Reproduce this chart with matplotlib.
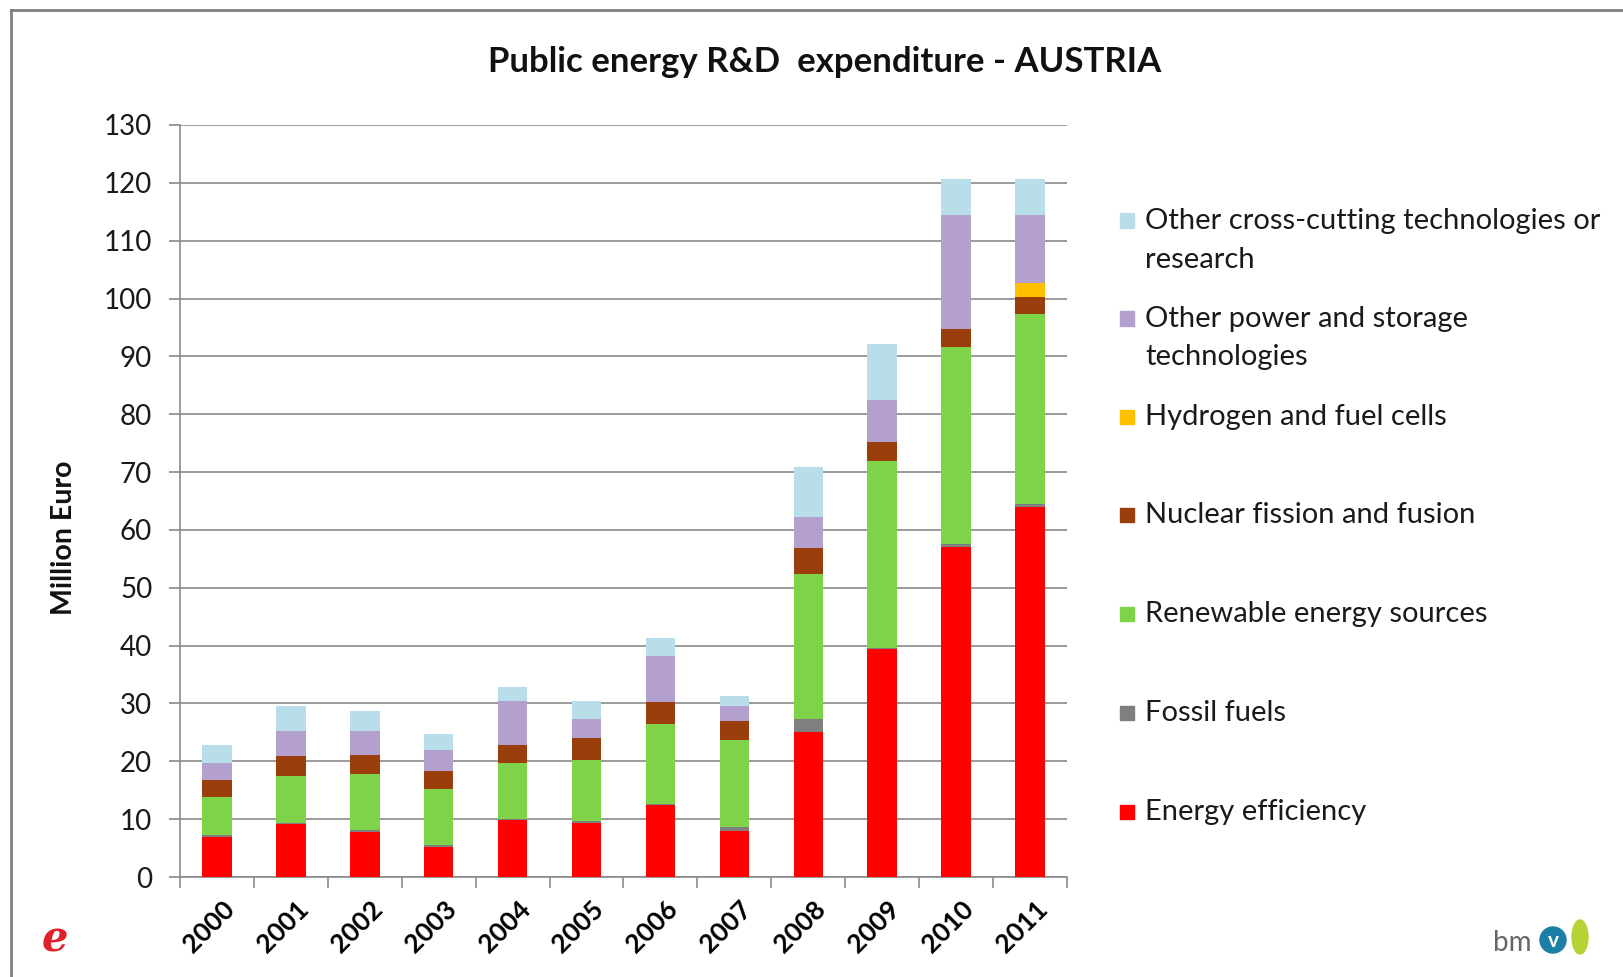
import matplotlib
matplotlib.use("Agg")
import matplotlib.pyplot as plt
import numpy as np
from matplotlib.patches import Rectangle, Ellipse

years = ["2000", "2001", "2002", "2003", "2004", "2005", "2006", "2007", "2008", "2009", "2010", "2011"]
efficiency = [7.0, 9.1, 7.8, 5.1, 9.8, 9.4, 12.4, 8.0, 25.0, 39.4, 57.1, 64.0]
fossil = [0.3, 0.3, 0.3, 0.4, 0.3, 0.3, 0.3, 0.6, 2.4, 0.2, 0.5, 0.5]
renewable = [6.5, 8.1, 9.7, 9.7, 9.6, 10.6, 13.7, 15.1, 24.9, 32.4, 34.1, 32.8]
nuclear = [2.9, 3.5, 3.3, 3.1, 3.2, 3.7, 3.8, 3.2, 4.6, 3.2, 3.1, 2.9]
hydrogen = [0.0, 0.0, 0.0, 0.0, 0.0, 0.0, 0.0, 0.0, 0.0, 0.0, 0.0, 2.4]
other_power = [3.0, 4.3, 4.2, 3.7, 7.6, 3.3, 8.0, 2.7, 5.4, 7.3, 19.6, 11.8]
cross_cutting = [3.2, 4.3, 3.4, 2.7, 2.4, 3.2, 3.2, 1.7, 8.5, 9.6, 6.3, 6.3]

series = [efficiency, fossil, renewable, nuclear, hydrogen, other_power, cross_cutting]
labels = ["Energy efficiency", "Fossil fuels", "Renewable energy sources",
          "Nuclear fission and fusion", "Hydrogen and fuel cells",
          "Other power and storage\ntechnologies",
          "Other cross-cutting technologies or\nresearch"]
colors = ["#FF0000", "#7F7F7F", "#7ED348", "#9A3F0C", "#FFC000", "#B3A0CF", "#B8DEEA"]

title = "Public energy R&D  expenditure - AUSTRIA"
ylabel = "Million Euro"
yticks = list(range(0, 131, 10))

plt.rcParams['font.family'] = ['Lato', 'DejaVu Sans']

fig = plt.figure(figsize=(16.24, 9.77), dpi=100)
ax = fig.add_axes([180/1624, 1-877/977, (1067-180)/1624, (877-125)/977])

x = np.arange(len(years))
bottom = np.zeros(len(years))
for vals, lab, col in zip(series, labels, colors):
    ax.bar(x, vals, width=0.4, bottom=bottom, color=col, label=lab, zorder=3, linewidth=0)
    bottom += np.array(vals)

ax.set_xlim(-0.5, len(years) - 0.5)
ax.set_ylim(0, 130)
ax.set_yticks(yticks)
ax.set_yticklabels([str(t) for t in yticks], fontsize=20, color="#1a1a1a")
ax.yaxis.grid(True, color="#8a8a8a", linewidth=1.2, zorder=0)
ax.set_axisbelow(True)
ax.tick_params(axis='y', length=8, width=1.2, color="#8a8a8a", pad=12)

ax.set_xticks(x)
ax.set_xticklabels(years, rotation=45, fontsize=19, fontweight='bold',
                   ha='right', va='top', rotation_mode='anchor')
ax.set_xticks(np.arange(-0.5, len(years), 1), minor=True)
ax.tick_params(axis='x', which='major', length=0, pad=14)
ax.tick_params(axis='x', which='minor', length=8, width=1.2, color="#8a8a8a")
for lbl in ax.get_xticklabels():
    lbl.set_transform(lbl.get_transform() + matplotlib.transforms.ScaledTranslation(0.05, 0, fig.dpi_scale_trans))

for s in ['top', 'right']:
    ax.spines[s].set_visible(False)
for s in ['left', 'bottom']:
    ax.spines[s].set_color("#8a8a8a")
    ax.spines[s].set_linewidth(1.2)

fig.text(825/1624, 1-62/977, title, fontsize=25, fontweight='bold',
         ha='center', va='center', color="#111111")
fig.text(64/1624, 1-538/977, ylabel, fontsize=20.5, fontweight='bold',
         rotation=90, ha='center', va='center', color="#111111")

# legend (manual placement)
leg_y = [812, 713, 614, 515, 417, 338, 240]
for lab, col, yy in zip(labels, colors, leg_y):
    lines = lab.split("\n")
    n = len(lines)
    first_y = yy - (n - 1) * 39 / 2
    fig.patches.append(Rectangle(((1127 - 7)/1624, 1-(first_y + 7)/977), 14/1624, 14/977,
                                 transform=fig.transFigure, color=col, figure=fig))
    for i, line in enumerate(lines):
        fig.text(1145/1624, 1-(first_y + i*39)/977, line, fontsize=21, ha='left', va='center',
                 color="#1a1a1a")

# border
fig.add_artist(plt.Line2D([11/1624, 11/1624], [0, 1-10/977], transform=fig.transFigure,
                          color="#808080", linewidth=2))
fig.add_artist(plt.Line2D([11/1624, 1], [1-10/977, 1-10/977], transform=fig.transFigure,
                          color="#808080", linewidth=2))

# logos
fig.text(55/1624, 1-940/977, "e", fontsize=30, color="#E0202A", fontstyle='italic',
         fontweight='bold', ha='center', va='center', family='DejaVu Serif')
fig.text(1512/1624, 1-943/977, "bm", fontsize=20, color="#666666", ha='center', va='center')
fig.add_artist(Ellipse((1553/1624, 1-940/977), 26/1624, 26/977, transform=fig.transFigure,
                       color="#1C7FA6"))
fig.text(1553/1624, 1-941/977, "v", fontsize=15, color="white", fontweight='bold',
         ha='center', va='center')
fig.add_artist(Ellipse((1580/1624, 1-937/977), 16/1624, 34/977, transform=fig.transFigure,
                       color="#B5D334"))

fig.savefig("out.png", dpi=100, facecolor="white")
